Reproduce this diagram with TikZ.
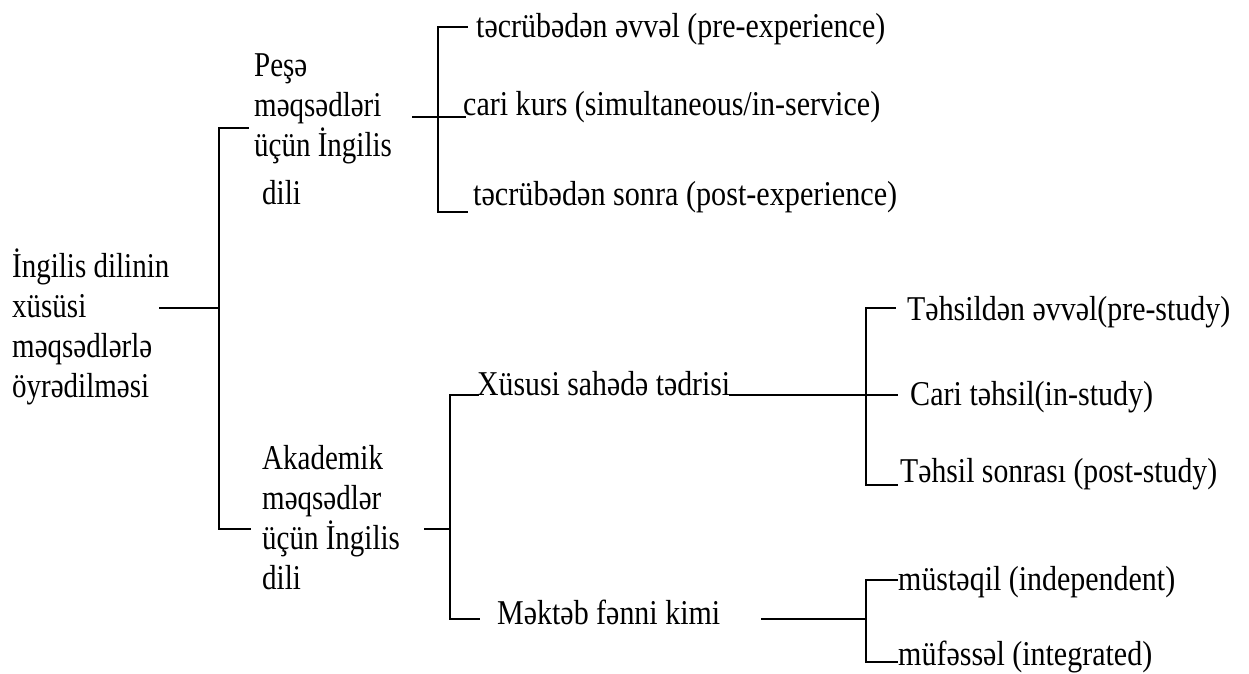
\documentclass[tikz,border=0pt]{standalone}
\usepackage{fontspec}
\usepackage{graphicx}
\setmainfont{Liberation Serif}
\newcommand\fitw[2]{\setbox0=\hbox{#2}\pgfmathsetmacro\fitr{#1/\the\wd0}\scalebox{\fitr}[1.2]{\box0}}
\newcommand\vs[1]{\scalebox{1}[1.2]{#1}}
\tikzset{
  txt/.style={inner sep=0pt, anchor=base west, font=\fontsize{29}{40}\selectfont},
  ml/.style={inner sep=0pt, anchor=north west, align=left, font=\fontsize{29}{40}\selectfont},
  conn/.style={line width=1.8pt, line cap=rect}
}
\begin{document}
\begin{tikzpicture}[x=1pt,y=-1pt]
\useasboundingbox[fill=white] (0,0) rectangle (1249,673);
% level 0
\node[ml] (root) at (12,249) {\vs{İngilis dilinin}\\\vs{xüsüsi}\\\vs{məqsədlərlə}\\\vs{öyrədilməsi}};
% level 1
\node[ml] (pesa) at (254,54) {\vs{Peşə}\\\vs{məqsədləri}\\\vs{üçün İngilis}\\[8pt]\hspace*{8pt}\vs{dili}};
\node[ml] (akad) at (262,445) {\vs{Akademik}\\\vs{məqsədlər}\\\vs{üçün İngilis}\\\vs{dili}};
% level 2 (top)
\node[txt] (tpre) at (476,37) {\fitw{409}{təcrübədən əvvəl (pre-experience)}};
\node[txt] (tcari) at (463,115) {\fitw{417}{cari kurs (simultaneous/in-service)}};
\node[txt] (tpost) at (473,205) {\fitw{424}{təcrübədən sonra (post-experience)}};
% level 2 (bottom)
\node[txt] (xus) at (477,395) {\fitw{253}{Xüsusi sahədə tədrisi}};
\node[txt] (mek) at (497,624) {\fitw{223}{Məktəb fənni kimi}};
% level 3
\node[txt] (ts1) at (907,320) {\fitw{323}{Təhsildən əvvəl(pre-study)}};
\node[txt] (ts2) at (910,405) {\fitw{243}{Cari təhsil(in-study)}};
\node[txt] (ts3) at (900,482) {\fitw{317}{Təhsil sonrası (post-study)}};
\node[txt] (ms) at (898,590) {\fitw{277}{müstəqil (independent)}};
\node[txt] (mf) at (898,665) {\fitw{254}{müfəssəl (integrated)}};
% junction coordinates
\coordinate (rootout) at (160,308);
\coordinate (bus1) at (219,308);
\coordinate (pIn) at (248,128);
\coordinate (aIn) at (250,529);
\coordinate (pOut) at (413,117);
\coordinate (bus2) at (438,117);
\coordinate (cIn) at (465,117);
\coordinate (t1In) at (467,27);
\coordinate (t3In) at (467,212);
\coordinate (aOut) at (425,529);
\coordinate (bus3) at (450,529);
\coordinate (xIn) at (478,395);
\coordinate (mIn) at (479,619);
\coordinate (xOut) at (730,395);
\coordinate (bus4) at (866,395);
\coordinate (ciIn) at (897,395);
\coordinate (tpIn) at (895,308);
\coordinate (tsIn) at (897,485);
\coordinate (mOut) at (762,619);
\coordinate (bus5) at (866,619);
\coordinate (msIn) at (897,580);
\coordinate (mfIn) at (897,662);
% connectors
\draw[conn] (rootout) -- (bus1);
\draw[conn] (pIn) -| (bus1) |- (aIn);
\draw[conn] (pOut) -- (bus2) -- (cIn);
\draw[conn] (t1In) -| (bus2) |- (t3In);
\draw[conn] (aOut) -- (bus3);
\draw[conn] (xIn) -| (bus3) |- (mIn);
\draw[conn] (xOut) -- (bus4) -- (ciIn);
\draw[conn] (tpIn) -| (bus4) |- (tsIn);
\draw[conn] (mOut) -- (bus5);
\draw[conn] (msIn) -| (bus5) |- (mfIn);
\end{tikzpicture}
\end{document}
